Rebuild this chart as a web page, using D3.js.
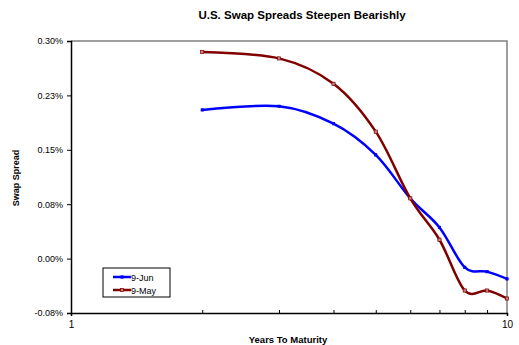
<!DOCTYPE html>
<html>
<head>
<meta charset="utf-8">
<script src="https://cdn.jsdelivr.net/npm/d3@7"></script>
<style>
  html, body { margin: 0; padding: 0; background: #fff; }
  svg { display: block; font-family: Arial, "Liberation Sans", sans-serif; }
</style>
</head>
<body>
<svg id="chart" width="519" height="345"></svg>
<script>
// Years to maturity
const maturities = [2, 3, 4, 5, 6, 7, 8, 9, 10];
// Swap spreads (percent)
const spreadsJun = [0.205, 0.210, 0.186, 0.143, 0.083, 0.043, -0.012, -0.018, -0.028];
const spreadsMay = [0.285, 0.276, 0.241, 0.175, 0.083, 0.026, -0.044, -0.044, -0.055];
const seriesNames = ["9-Jun", "9-May"];
const seriesColors = ["#0000ff", "#800000"];
const yTicks = [0.3, 0.225, 0.15, 0.075, 0, -0.075];
const xTicks = [1, 10];
const xMinorTicks = [2, 3, 4, 5, 6, 7, 8, 9];

const svg = d3.select("#chart");
const plot = { left: 71, right: 507, top: 41, bottom: 313 };

const x = d3.scaleLog().domain([1, 10]).range([plot.left, plot.right]);
const y = d3.scaleLinear().domain([-0.075, 0.3]).range([plot.bottom, plot.top]);

// Percent labels rounded half away from zero to two decimals
const pct = d => {
  const r = Math.sign(d) * Math.round(Math.abs(d) * 100 + 1e-9) / 100;
  return r.toFixed(2) + "%";
};

// Title
svg.append("text")
  .attr("x", 302).attr("y", 19)
  .attr("text-anchor", "middle")
  .attr("font-size", "11.5px").attr("font-weight", "bold")
  .text("U.S. Swap Spreads Steepen Bearishly");

// Frame (top and right edges)
svg.append("path")
  .attr("d", `M${plot.left},${plot.top}H${plot.right}V${plot.bottom}`)
  .attr("fill", "none").attr("stroke", "#808080").attr("stroke-width", 1.5);

// Y axis
const yAxis = svg.append("g")
  .attr("transform", `translate(${plot.left},0)`)
  .call(d3.axisLeft(y).tickValues(yTicks).tickSize(4).tickPadding(4).tickFormat(pct));
yAxis.select(".domain").attr("stroke", "#000").attr("stroke-width", 1.5);
yAxis.selectAll(".tick line").attr("stroke", "#000");
yAxis.selectAll(".tick text")
  .attr("font-size", "9px").attr("fill", "#000")
  .attr("font-family", "Arial, 'Liberation Sans', sans-serif");

// X axis
const xAxis = svg.append("g")
  .attr("transform", `translate(0,${plot.bottom})`)
  .call(d3.axisBottom(x).tickValues(xTicks).tickSize(3).tickPadding(5)
    .tickFormat(d3.format("d")));
xAxis.select(".domain").attr("stroke", "#000").attr("stroke-width", 1.5);
xAxis.selectAll(".tick line").attr("stroke", "#000");
xAxis.selectAll(".tick text")
  .attr("font-size", "10px").attr("fill", "#000")
  .attr("font-family", "Arial, 'Liberation Sans', sans-serif");

// Minor ticks along the x axis, pointing inward
const xMinor = svg.append("g")
  .attr("transform", `translate(0,${plot.bottom})`)
  .call(d3.axisTop(x).tickValues(xMinorTicks).tickSize(3).tickFormat(""));
xMinor.select(".domain").remove();
xMinor.selectAll(".tick line").attr("stroke", "#000");

// Axis titles
svg.append("text")
  .attr("x", 288).attr("y", 342.5)
  .attr("text-anchor", "middle")
  .attr("font-size", "9.5px").attr("font-weight", "bold")
  .text("Years To Maturity");

svg.append("text")
  .attr("transform", "translate(19,178) rotate(-90)")
  .attr("text-anchor", "middle")
  .attr("font-size", "9px").attr("font-weight", "bold")
  .text("Swap Spread");

// Series
const series = [
  { name: seriesNames[0], color: seriesColors[0], values: spreadsJun, marker: 1.2, fill: "#0000ff" },
  { name: seriesNames[1], color: seriesColors[1], values: spreadsMay, marker: 1.6, fill: "#c08080" }
];

const line = d3.line()
  .x((d, i) => x(maturities[i]))
  .y(d => y(d))
  .curve(d3.curveCardinal.tension(0));

series.forEach(s => {
  svg.append("path")
    .datum(s.values)
    .attr("d", line)
    .attr("fill", "none")
    .attr("stroke", s.color)
    .attr("stroke-width", 2.5);
  svg.append("g").selectAll("rect")
    .data(s.values)
    .join("rect")
    .attr("x", (d, i) => x(maturities[i]) - s.marker)
    .attr("y", d => y(d) - s.marker)
    .attr("width", s.marker * 2).attr("height", s.marker * 2)
    .attr("fill", s.fill)
    .attr("stroke", s.color).attr("stroke-width", 0.7);
});

// Legend
const legend = svg.append("g").attr("transform", "translate(103,268)");
legend.append("rect")
  .attr("x", 0).attr("y", 0).attr("width", 67).attr("height", 29)
  .attr("fill", "#fff").attr("stroke", "#000").attr("stroke-width", 1);
series.forEach((s, i) => {
  const ly = 9 + i * 13;
  legend.append("line")
    .attr("x1", 10).attr("x2", 28).attr("y1", ly).attr("y2", ly)
    .attr("stroke", s.color).attr("stroke-width", 2.5);
  legend.append("rect")
    .attr("x", 19 - s.marker).attr("y", ly - s.marker)
    .attr("width", s.marker * 2).attr("height", s.marker * 2)
    .attr("fill", s.fill)
    .attr("stroke", s.color).attr("stroke-width", 0.7);
  legend.append("text")
    .attr("x", 28).attr("y", ly + 3.5)
    .attr("font-size", "9px")
    .text(s.name);
});
</script>
</body>
</html>
